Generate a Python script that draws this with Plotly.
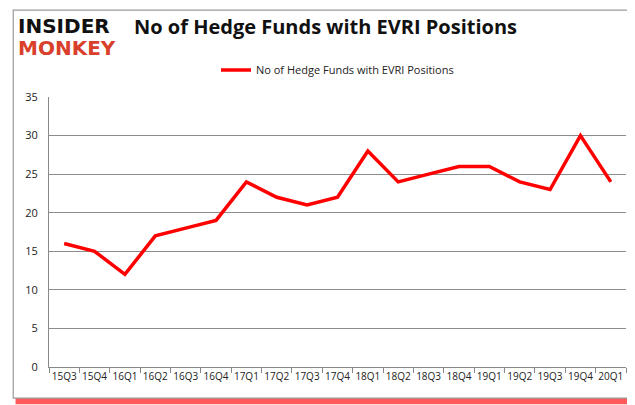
import plotly.graph_objects as go

# Quarterly hedge fund counts for EVRI
quarters = ["15Q3", "15Q4", "16Q1", "16Q2", "16Q3", "16Q4", "17Q1", "17Q2", "17Q3", "17Q4",
            "18Q1", "18Q2", "18Q3", "18Q4", "19Q1", "19Q2", "19Q3", "19Q4", "20Q1"]
funds = [16, 15, 12, 17, 18, 19, 24, 22, 21, 22, 28, 24, 25, 26, 26, 24, 23, 30, 24]
y_ticks = [0, 5, 10, 15, 20, 25, 30, 35]

series_name = "No of Hedge Funds with EVRI Positions"

fig = go.Figure(go.Scatter(
    x=quarters,
    y=funds,
    mode="lines",
    name=series_name,
    line=dict(color="#ff0000", width=3.5),
))

fig.update_layout(
    width=635,
    height=405,
    paper_bgcolor="white",
    plot_bgcolor="white",
    margin=dict(l=41, r=17, t=89, b=46),
    font=dict(family="Open Sans", color="#222222", size=11),
    showlegend=True,
    legend=dict(
        orientation="h",
        x=0.5, xanchor="center",
        y=1.10, yanchor="middle",
        font=dict(size=11, color="#222222"),
        bgcolor="rgba(0,0,0,0)",
    ),
    title=dict(
        text="<b>No of Hedge Funds with EVRI Positions</b>",
        x=0.5, xanchor="center",
        y=0.952, yanchor="middle",
        font=dict(family="Open Sans", size=20, color="#111111"),
    ),
    xaxis=dict(
        type="category",
        range=[-0.5, len(quarters) - 0.5],
        tickson="boundaries",
        ticks="outside",
        ticklen=5,
        tickcolor="#888888",
        tickangle=0,
        showline=True,
        linecolor="#888888",
        showgrid=False,
        tickfont=dict(size=10, color="#222222"),
        fixedrange=True,
    ),
    yaxis=dict(
        range=[0, 35],
        tickvals=y_ticks,
        showgrid=True,
        gridcolor="#8c8c8c",
        gridwidth=1,
        showline=True,
        linecolor="#888888",
        zeroline=False,
        ticks="",
        ticklabelstandoff=8,
        tickfont=dict(size=11, color="#222222"),
    ),
    shapes=[
        # red shadow below the frame
        dict(type="rect", xref="paper", yref="paper",
             x0=-0.058, x1=1.018, y0=-0.138, y1=-0.112,
             fillcolor="rgba(255,0,0,0.65)", line=dict(width=0), layer="below"),
        # outer frame
        dict(type="rect", xref="paper", yref="paper",
             x0=-0.062, x1=1.021, y0=-0.115, y1=1.322,
             fillcolor="white", line=dict(color="#9a9a9a", width=1.2), layer="below"),
    ],
    annotations=[
        dict(text="<b>INSIDER</b>", xref="paper", yref="paper",
             x=-0.057, y=1.262, xanchor="left", yanchor="middle", showarrow=False,
             font=dict(family="DejaVu Sans", size=20, color="#111111")),
        dict(text="<b>MONKEY</b>", xref="paper", yref="paper",
             x=-0.057, y=1.18, xanchor="left", yanchor="middle", showarrow=False,
             font=dict(family="DejaVu Sans", size=20, color="#d9402b")),
    ],
)

fig.write_html("out.html")
